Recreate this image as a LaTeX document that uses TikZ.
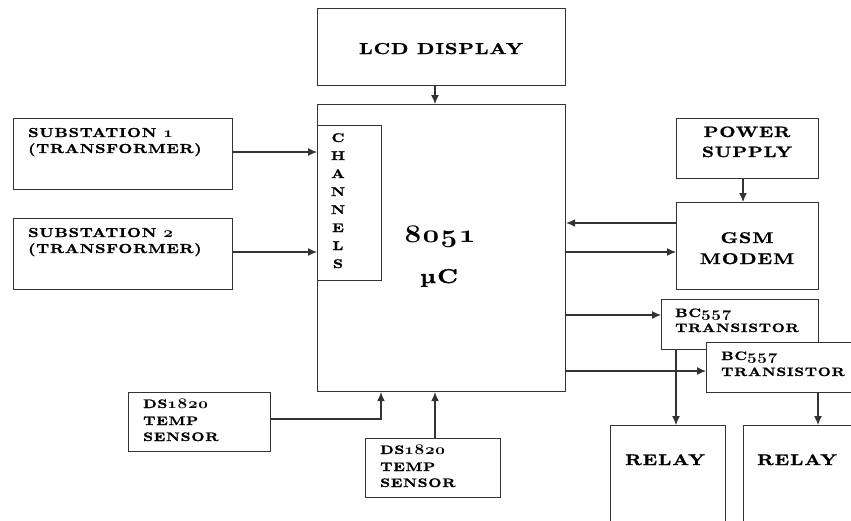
\documentclass[tikz,border=0pt]{standalone}
\usepackage{fontspec}
\usepackage{graphicx}
\usepackage{pdfrender}
\usetikzlibrary{arrows.meta}
\newfontfamily\dfont{lmroman10-bold.otf}[FakeStretch=1.25,LetterSpace=6,FakeBold=1.3]
\newcommand\osn[1]{\scalebox{1.4}[1.22]{\textpdfrender{TextRenderingMode=2,LineWidth=0.35pt}{\fontencoding{OML}\fontfamily{cmm}\fontseries{b}\fontshape{it}\selectfont #1}}}
\definecolor{linec}{HTML}{333333}
\tikzset{
  blk/.style={draw=linec, line width=1.2pt, fill=white, inner sep=0pt, anchor=north west},
  arr/.style={draw=linec, line width=1.2pt, -{Latex[length=9pt,width=8pt]}},
  txt/.style={inner sep=0pt, anchor=base west},
  ctxt/.style={inner sep=0pt, anchor=base},
}
\begin{document}
\begin{tikzpicture}[x=1pt,y=-1pt]
\useasboundingbox (0,0) rectangle (851,520);
\clip (0,0) rectangle (851,520);
\fill[white] (0,0) rectangle (851,520);
% blocks
\node[blk, minimum width=248pt, minimum height=77pt] (lcd) at (317,8) {};
\node[blk, minimum width=248pt, minimum height=287pt] (main) at (317,104) {};
\node[blk, minimum width=64pt, minimum height=155pt] (ch) at (317,125) {};
\node[blk, minimum width=219pt, minimum height=71pt] (sub1) at (13,118) {};
\node[blk, minimum width=219pt, minimum height=71pt] (sub2) at (13,218) {};
\node[blk, minimum width=142pt, minimum height=60pt] (pwr) at (676,118) {};
\node[blk, minimum width=142pt, minimum height=87pt] (gsm) at (676,202) {};
\node[blk, minimum width=157pt, minimum height=50pt] (bc1) at (661,299) {};
\node[blk, minimum width=160pt, minimum height=50pt] (bc2) at (706,342) {};
\node[blk, minimum width=115pt, minimum height=110pt] (rl1) at (610,425) {};
\node[blk, minimum width=120pt, minimum height=110pt] (rl2) at (743,425) {};
\node[blk, minimum width=142pt, minimum height=59pt] (ds1) at (128,392) {};
\node[blk, minimum width=135pt, minimum height=59pt] (ds2) at (365,438) {};
% texts
\node[ctxt, font=\dfont\fontsize{15.8}{18}\selectfont] (tlcd) at (441,54) {LCD DISPLAY};
\node[ctxt, font=\dfont\fontsize{22}{26}\selectfont] (t8051) at (440,242) {\osn{8\kern1pt0\kern1pt5\kern1pt1}};
\node[ctxt, font=\dfont\fontsize{20}{22}\selectfont] (tuc) at (439,283) {µC};
\foreach \l/\yy [count=\i] in {C/142,H/160,A/178,N/196,N/214,E/232,L/250,S/268}
  \node[ctxt, font=\dfont\fontsize{12.5}{14}\selectfont] (tch\i) at (338,\yy) {\l};
\node[txt, font=\dfont\fontsize{13}{15}\selectfont] (ts1a) at (28,137) {SUBSTATION \osn{1}};
\node[txt, font=\dfont\fontsize{13}{15}\selectfont] (ts1b) at (28,153) {(TRANSFORMER)};
\node[txt, font=\dfont\fontsize{13}{15}\selectfont] (ts2a) at (28,237) {SUBSTATION \osn{2}};
\node[txt, font=\dfont\fontsize{13}{15}\selectfont] (ts2b) at (28,253) {(TRANSFORMER)};
\node[ctxt, font=\dfont\fontsize{15}{18}\selectfont] (tp1) at (747,137) {POWER};
\node[ctxt, font=\dfont\fontsize{15}{18}\selectfont] (tp2) at (747,157) {SUPPLY};
\node[ctxt, font=\dfont\fontsize{15.5}{18}\selectfont] (tg1) at (747,243) {GSM};
\node[ctxt, font=\dfont\fontsize{15.5}{18}\selectfont] (tg2) at (747,264) {MODEM};
\node[txt, font=\dfont\fontsize{12.2}{14}\selectfont] (tb1a) at (675,317) {BC\osn{5\kern0.5pt5\kern0.5pt7}};
\node[txt, font=\dfont\fontsize{12.2}{14}\selectfont] (tb1b) at (675,332) {TRANSISTOR};
\node[txt, font=\dfont\fontsize{12.2}{14}\selectfont] (tb2a) at (721,360) {BC\osn{5\kern0.5pt5\kern0.5pt7}};
\node[txt, font=\dfont\fontsize{12.2}{14}\selectfont] (tb2b) at (721,376) {TRANSISTOR};
\node[ctxt, font=\dfont\fontsize{15.4}{18}\selectfont] (tr1) at (665,465) {RELAY};
\node[ctxt, font=\dfont\fontsize{15.4}{18}\selectfont] (tr2) at (797,465) {RELAY};
\node[txt, font=\dfont\fontsize{12.3}{14}\selectfont] (td1a) at (143,408) {DS\osn{1\kern0.5pt8\kern0.5pt2\kern0.5pt0}};
\node[txt, font=\dfont\fontsize{12.3}{14}\selectfont] (td1b) at (143,425) {TEMP};
\node[txt, font=\dfont\fontsize{12.3}{14}\selectfont] (td1c) at (143,441) {SENSOR};
\node[txt, font=\dfont\fontsize{12.3}{14}\selectfont] (td2a) at (380,454) {DS\osn{1\kern0.5pt8\kern0.5pt2\kern0.5pt0}};
\node[txt, font=\dfont\fontsize{12.3}{14}\selectfont] (td2b) at (380,471) {TEMP};
\node[txt, font=\dfont\fontsize{12.3}{14}\selectfont] (td2c) at (380,487) {SENSOR};
% helper coordinates
\coordinate (xl) at (435,0);
\coordinate (xp) at (743,0);
\coordinate (xr1) at (676,0);
\coordinate (xr2) at (818,0);
\coordinate (xd) at (381,0);
\coordinate (y1) at (0,152);
\coordinate (y2) at (0,252);
\coordinate (yg1) at (0,223);
\coordinate (yg2) at (0,252);
\coordinate (yb1) at (0,315);
\coordinate (yb2) at (0,371);
\coordinate (yd) at (0,419);
% connectors
\draw[arr] (lcd.south -| xl) -- (main.north -| xl);
\draw[arr] (sub1.east |- y1) -- (main.west |- y1);
\draw[arr] (sub2.east |- y2) -- (main.west |- y2);
\draw[arr] (pwr.south -| xp) -- (gsm.north -| xp);
\draw[arr] (gsm.west |- yg1) -- (main.east |- yg1);
\draw[arr] (main.east |- yg2) -- (gsm.west |- yg2);
\draw[arr] (main.east |- yb1) -- (bc1.west |- yb1);
\draw[arr] (main.east |- yb2) -- (bc2.west |- yb2);
\draw[arr] (bc1.south -| xr1) -- (rl1.north -| xr1);
\draw[arr] (bc2.south -| xr2) -- (rl2.north -| xr2);
\draw[arr] (ds1.east |- yd) -| (main.south -| xd);
\draw[arr] (ds2.north -| xl) -- (main.south -| xl);
\end{tikzpicture}
\end{document}
